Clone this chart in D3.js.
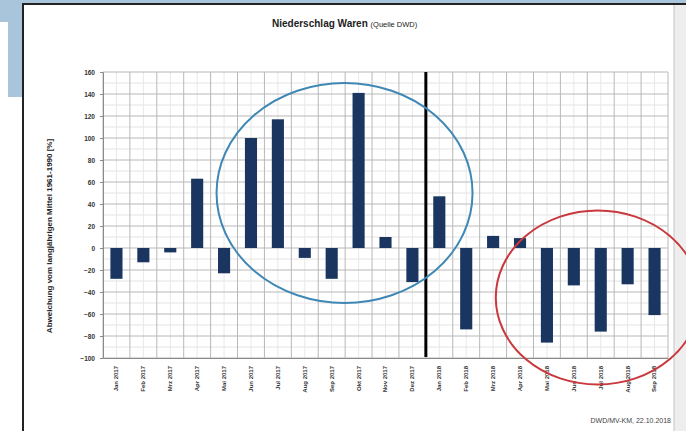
<!DOCTYPE html>
<html>
<head>
<meta charset="utf-8">
<script src="https://cdn.jsdelivr.net/npm/d3@7"></script>
<style>
  html, body { margin: 0; padding: 0; background: #ffffff; }
  svg { display: block; font-family: "Liberation Sans", Arial, sans-serif; }
</style>
</head>
<body>
<svg id="chart" width="686" height="431"></svg>
<script>
// Monthly precipitation at Waren: deviation from the long-term mean, in percent
const months = [
  "Jan 2017", "Feb 2017", "Mrz 2017", "Apr 2017", "Mai 2017", "Jun 2017",
  "Jul 2017", "Aug 2017", "Sep 2017", "Okt 2017", "Nov 2017", "Dez 2017",
  "Jan 2018", "Feb 2018", "Mrz 2018", "Apr 2018", "Mai 2018", "Jun 2018",
  "Jul 2018", "Aug 2018", "Sep 2018"
];
const deviation = [
  -28, -13, -4, 63, -23, 100,
  117, -9, -28, 141, 10, -31,
  47, -74, 11, 9, -86, -34,
  -76, -33, -61
];
const yTicks = [-100, -80, -60, -40, -20, 0, 20, 40, 60, 80, 100, 120, 140, 160];
const yMinor = d3.range(-90, 160, 20);

const svg = d3.select("#chart");

// page background: blue tab at the top left, framed sheet
svg.append("rect").attr("x", 0).attr("y", 0).attr("width", 686).attr("height", 431).attr("fill", "#ffffff");
svg.append("rect").attr("x", 0).attr("y", 0).attr("width", 686).attr("height", 4).attr("fill", "#a8c5db");
svg.append("rect").attr("x", 0).attr("y", 0).attr("width", 24).attr("height", 97).attr("fill", "#a8c5db");
svg.append("rect").attr("x", 0).attr("y", 22).attr("width", 8).attr("height", 75).attr("fill", "#ffffff");
svg.append("rect").attr("x", 674).attr("y", 4).attr("width", 12).attr("height", 427).attr("fill", "#eeeeee");
svg.append("line").attr("x1", 674).attr("x2", 674).attr("y1", 4).attr("y2", 431).attr("stroke", "#c4c4c4");
svg.append("line").attr("x1", 23).attr("x2", 686).attr("y1", 4).attr("y2", 4).attr("stroke", "#222").attr("stroke-width", 2);
svg.append("line").attr("x1", 23).attr("x2", 23).attr("y1", 3).attr("y2", 431).attr("stroke", "#222").attr("stroke-width", 2);

const plot = { left: 103, right: 668, top: 72, bottom: 358 };

const x = d3.scaleBand().domain(months).range([plot.left, plot.right]).paddingInner(0.55).paddingOuter(0.275);
const y = d3.scaleLinear().domain([-100, 160]).range([plot.bottom, plot.top]);
const step = x.step();

// minor grid
const g = svg.append("g");
g.selectAll("line.minor-h").data(yMinor).join("line")
  .attr("x1", plot.left).attr("x2", plot.right)
  .attr("y1", d => y(d)).attr("y2", d => y(d))
  .attr("stroke", "#e4e4e4").attr("stroke-width", 1);
g.selectAll("line.minor-v").data(months).join("line")
  .attr("x1", d => x(d) + x.bandwidth() / 2).attr("x2", d => x(d) + x.bandwidth() / 2)
  .attr("y1", plot.top).attr("y2", plot.bottom)
  .attr("stroke", "#e8e8e8").attr("stroke-width", 1);

// major grid
g.selectAll("line.major-h").data(yTicks).join("line")
  .attr("x1", plot.left).attr("x2", plot.right)
  .attr("y1", d => y(d)).attr("y2", d => y(d))
  .attr("stroke", "#b8b8b8").attr("stroke-width", 1);
g.selectAll("line.major-v").data(d3.range(months.length + 1)).join("line")
  .attr("x1", i => plot.left + i * step).attr("x2", i => plot.left + i * step)
  .attr("y1", plot.top).attr("y2", plot.bottom)
  .attr("stroke", "#b8b8b8").attr("stroke-width", 1);

// y axis
const yAxis = svg.append("g").attr("transform", `translate(${plot.left},0)`)
  .call(d3.axisLeft(y).tickValues(yTicks).tickSize(3).tickPadding(5));
yAxis.select(".domain").attr("stroke", "#8a8a8a");
yAxis.selectAll(".tick line").attr("stroke", "#8a8a8a");
yAxis.selectAll("text").attr("font-size", 6.5).attr("font-weight", "bold").attr("fill", "#333")
  .attr("font-family", "Liberation Sans, Arial, sans-serif");

// x axis
const xAxis = svg.append("g").attr("transform", `translate(0,${plot.bottom})`)
  .call(d3.axisBottom(x).tickSize(0).tickPadding(0));
xAxis.select(".domain").attr("stroke", "#8a8a8a");
xAxis.selectAll("text")
  .attr("font-size", 6).attr("font-weight", "bold").attr("fill", "#333")
  .attr("font-family", "Liberation Sans, Arial, sans-serif")
  .attr("text-anchor", "end").attr("dy", "0.32em")
  .attr("transform", "translate(0,8) rotate(-90)");

// bars
svg.append("g").selectAll("rect").data(months).join("rect")
  .attr("x", d => x(d))
  .attr("width", x.bandwidth())
  .attr("y", (d, i) => y(Math.max(0, deviation[i])))
  .attr("height", (d, i) => Math.abs(y(deviation[i]) - y(0)))
  .attr("fill", "#1a3560");

// separator between 2017 and 2018
const sepX = plot.left + 12 * step;
svg.append("line").attr("x1", sepX).attr("x2", sepX)
  .attr("y1", plot.top).attr("y2", plot.bottom - 1)
  .attr("stroke", "#000").attr("stroke-width", 3);

// highlight ellipses: wet summer/autumn 2017, dry summer 2018
svg.append("ellipse")
  .attr("cx", x("Okt 2017") - 8).attr("cy", y(50))
  .attr("rx", 128).attr("ry", 110)
  .attr("fill", "none").attr("stroke", "#3f87b5").attr("stroke-width", 2);
svg.append("ellipse")
  .attr("cx", x("Jun 2018") + 30).attr("cy", y(-45))
  .attr("rx", 102).attr("ry", 87)
  .attr("fill", "none").attr("stroke", "#c8383c").attr("stroke-width", 2);

// titles
const title = svg.append("text").attr("x", 272).attr("y", 27).attr("fill", "#222");
title.append("tspan").attr("font-size", 10).attr("font-weight", "bold").text("Niederschlag Waren ");
title.append("tspan").attr("font-size", 7.5).text("(Quelle DWD)");

svg.append("text")
  .attr("transform", `translate(52,236) rotate(-90)`)
  .attr("text-anchor", "middle").attr("font-size", 8).attr("font-weight", "bold").attr("fill", "#222")
  .text("Abweichung vom langjährigen Mittel 1961-1990 [%]");

svg.append("text")
  .attr("x", 671).attr("y", 423).attr("text-anchor", "end")
  .attr("font-size", 7).attr("fill", "#444")
  .text("DWD/MV-KM, 22.10.2018");
</script>
</body>
</html>
